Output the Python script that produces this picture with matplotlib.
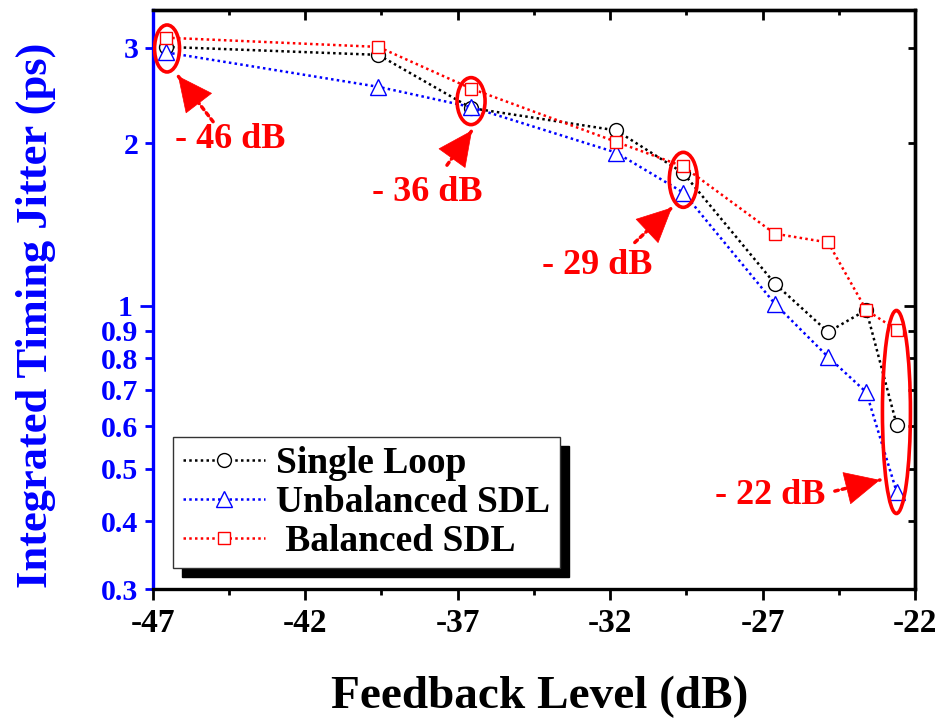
import numpy as np
import matplotlib
matplotlib.use('Agg')
import matplotlib.pyplot as plt
from matplotlib.patches import Ellipse, FancyArrowPatch
from matplotlib.ticker import FixedLocator, FuncFormatter, NullFormatter

plt.rcParams['font.family'] = 'serif'
plt.rcParams['font.serif'] = ['Liberation Serif', 'DejaVu Serif']
plt.rcParams['font.weight'] = 'bold'
plt.rcParams['axes.unicode_minus'] = False

# feedback level (dB)
feedback = [-46.55, -39.6, -36.55, -31.8, -29.6, -26.6, -24.85, -23.6, -22.6]
# integrated timing jitter (ps)
single_loop = [3.01, 2.91, 2.32, 2.11, 1.76, 1.10, 0.895, 0.983, 0.603]
unbalanced = [2.94, 2.54, 2.33, 1.92, 1.62, 1.01, 0.805, 0.693, 0.453]
balanced = [3.13, 3.01, 2.52, 2.01, 1.81, 1.36, 1.31, 0.983, 0.903]

xticks = [-47, -42, -37, -32, -27, -22]
yticks_minor = [0.3, 0.4, 0.5, 0.6, 0.7, 0.8, 0.9, 2, 3]

# annotations: label, text pos, arrow tail, arrow tip, ellipse centre
notes = ['- 46 dB', '- 36 dB', '- 29 dB', '- 22 dB']
note_xy = [(-44.47, 2.03), (-38.0, 1.62), (-32.42, 1.186), (-26.76, 0.446)]
arrow_tail = [(-45.02, 2.19), (-37.35, 1.82), (-31.19, 1.31), (-24.63, 0.455)]
arrow_tip = [(-46.17, 2.66), (-36.53, 2.11), (-29.97, 1.52), (-23.15, 0.477)]
ell_xy = [(-46.53, 2.99), (-36.56, 2.39), (-29.6, 1.71), (-22.61, 0.637)]
ell_px = [(25, 47), (28, 47), (28, 55), (28, 203)]

fig = plt.figure(figsize=(9.41, 7.22), dpi=100)
ax = fig.add_axes([0.1623, 0.1842, 0.8101, 0.8018])
ax.set_yscale('log')

ls = (0, (1, 1.3))
ax.plot(feedback, single_loop, color='k', ls=ls, lw=1.8, marker='o', ms=10,
        mfc='white', mec='k', mew=1.0, label='Single Loop')
ax.plot(feedback, unbalanced, color='#0000ff', ls=ls, lw=1.8, marker='^', ms=12,
        mfc='white', mec='#0000ff', mew=1.0, label='Unbalanced SDL')
ax.plot(feedback, balanced, color='#ff0000', ls=ls, lw=1.8, marker='s', ms=9,
        mfc='white', mec='#ff0000', mew=1.0, label=' Balanced SDL')

ax.set_xlim(-47, -22)
ax.set_ylim(0.3, 3.52)

# x axis: outward ticks at bottom
ax.xaxis.set_major_locator(FixedLocator(xticks))
ax.xaxis.set_minor_locator(FixedLocator(np.arange(-44.5, -22, 5)))
ax.tick_params(axis='x', which='major', direction='out', length=8, width=2,
               labelsize=24, pad=6, top=False)
ax.tick_params(axis='x', which='minor', direction='out', length=4.5, width=2, top=False)

# y axis: blue, outward on the left
ax.yaxis.set_major_locator(FixedLocator([1]))
ax.yaxis.set_minor_locator(FixedLocator(yticks_minor))
fmt = FuncFormatter(lambda v, p: '%g' % v)
ax.yaxis.set_major_formatter(fmt)
ax.yaxis.set_minor_formatter(fmt)
ax.tick_params(axis='y', which='major', direction='out', length=9.5, width=2,
               colors='#0000ff', labelsize=21.5, pad=5, right=False)
ax.tick_params(axis='y', which='minor', direction='out', length=5.5, width=2,
               colors='#0000ff', labelsize=21.5, pad=5, right=False)

for s in ['top', 'right', 'bottom']:
    ax.spines[s].set_linewidth(2.4)
    ax.spines[s].set_color('k')
ax.spines['left'].set_linewidth(2.4)
ax.spines['left'].set_color('#0000ff')

# inward ticks on top and right
top = ax.secondary_xaxis('top')
top.xaxis.set_major_locator(FixedLocator(xticks))
top.xaxis.set_minor_locator(FixedLocator(np.arange(-44.5, -22, 5)))
top.xaxis.set_major_formatter(NullFormatter())
top.tick_params(which='major', direction='in', length=7.5, width=2)
top.tick_params(which='minor', direction='in', length=3.5, width=2)
top.spines['top'].set_linewidth(2.4)

right = ax.secondary_yaxis('right')
right.yaxis.set_major_locator(FixedLocator([1]))
right.yaxis.set_minor_locator(FixedLocator(yticks_minor))
right.yaxis.set_major_formatter(NullFormatter())
right.yaxis.set_minor_formatter(NullFormatter())
right.tick_params(which='major', direction='in', length=8, width=2)
right.tick_params(which='minor', direction='in', length=5, width=2)
right.spines['right'].set_linewidth(2.4)

ax.set_xlabel('Feedback Level (dB)', fontsize=34, fontweight='bold', va='center')
ax.xaxis.set_label_coords(0.508, -0.186)
ax.set_ylabel('Integrated Timing Jitter (ps)', fontsize=32, fontweight='bold',
              color='#0000ff', va='center')
ax.yaxis.set_label_coords(-0.153, 0.473)

# ellipses, arrows and labels
to_axes = ax.transScale + ax.transLimits
bbox = ax.get_position()
ax_w = bbox.width * fig.get_figwidth() * fig.dpi
ax_h = bbox.height * fig.get_figheight() * fig.dpi
for (ex, ey), (pw, ph) in zip(ell_xy, ell_px):
    cx, cy = to_axes.transform((ex, ey))
    ax.add_patch(Ellipse((cx, cy), pw / ax_w, ph / ax_h, transform=ax.transAxes,
                         fill=False, edgecolor='#ff0000', lw=2.6, zorder=5))

for lab, txy, tail, tip in zip(notes, note_xy, arrow_tail, arrow_tip):
    # dotted shaft
    ax.add_patch(FancyArrowPatch(tail, tip, arrowstyle='-', color='#ff0000',
                                 lw=2.5, linestyle=(0, (1, 1.2)),
                                 shrinkA=0, shrinkB=0, zorder=6))
    # solid head
    ax.add_patch(FancyArrowPatch(tail, tip,
                                 arrowstyle='-|>,head_length=0.5,head_width=0.24',
                                 mutation_scale=48, color='#ff0000', lw=0.5,
                                 shrinkA=0, shrinkB=0, zorder=6))
    ax.text(txy[0], txy[1], lab, color='#ff0000', fontsize=26, fontweight='bold',
            ha='center', va='center')

leg = ax.legend(loc='lower left', bbox_to_anchor=(0.027, 0.036), borderaxespad=0,
                fontsize=27, numpoints=1, handlelength=2.2, handletextpad=0.3,
                labelspacing=0.1, borderpad=0.25, fancybox=False, framealpha=1,
                edgecolor='#333333',
                shadow={'ox': 6.5, 'oy': -6.5, 'shade': 1.0, 'alpha': 1})
leg.get_frame().set_linewidth(1.0)

fig.savefig('out.png', dpi=100)
